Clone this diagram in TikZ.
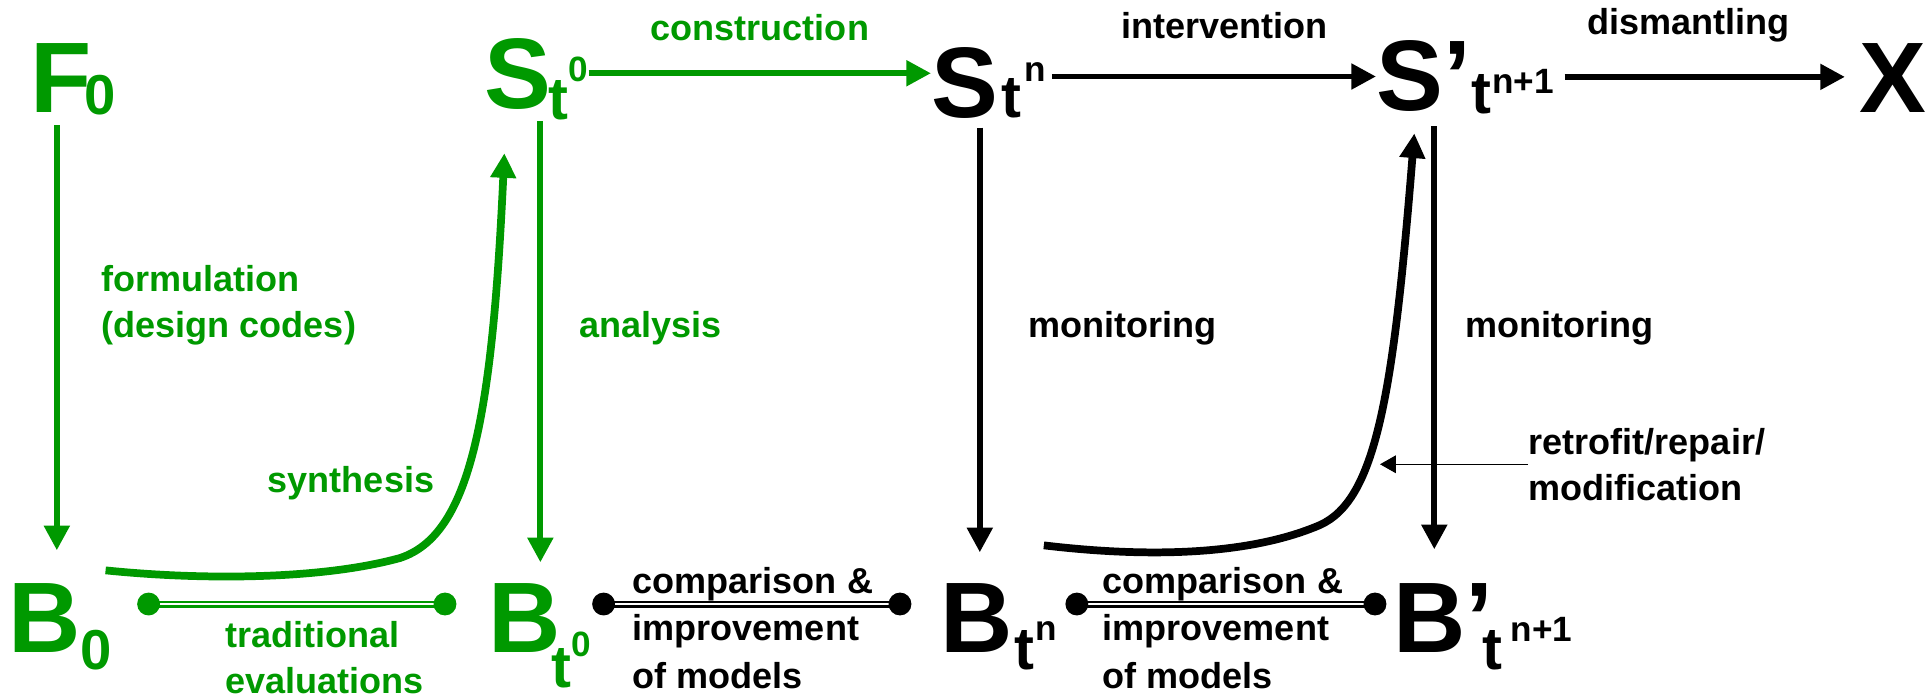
\documentclass[tikz,border=0pt]{standalone}
\usepackage{fontspec}
\setmainfont{Liberation Sans}
\usetikzlibrary{arrows.meta}

\definecolor{dgreen}{RGB}{0,153,0}

% big letters and their indices
\newcommand{\bigch}[1]{{\fontsize{28.5}{30}\selectfont #1}}
\newcommand{\idx}[3]{\raisebox{#1}{\fontsize{#2}{#2}\selectfont #3}}

\begin{document}
\begin{tikzpicture}[x=0.01cm, y=-0.01cm, font=\bfseries,
		state/.style={inner sep=0pt, anchor=base west},
		lbl/.style={inner sep=0pt, font=\fontsize{10.25}{13}\selectfont\bfseries, align=left, anchor=base west},
		arr/.style={line width=1.7pt, -{Triangle[length=7pt, width=7pt]}},
		curve/.style={line width=2.2pt, -{Triangle[length=7pt, width=7pt]}},
		cmp/.style={double, line width=0.7pt, double distance=0.6pt},
		dot/.style={circle, fill, inner sep=0pt, minimum size=6.5pt}]
		\useasboundingbox (0,0) rectangle (1930,699);

		% top row
		\node[state, text=dgreen] (F0) at (29.4,112) {\bigch{F}\kern-2pt\idx{-0.6pt}{16}{0}};
		\node[state, text=dgreen] (St0) at (484,108) {\bigch{S}\kern-0.85pt\idx{-3.4pt}{17}{t}\idx{7.4pt}{10}{0}};
		\node[state] (Stn) at (931,117) {\bigch{S}\kern0.85pt\idx{0pt}{17}{t}\kern0.85pt\idx{10.2pt}{10}{n}};
		\node[state] (Sp) at (1376,110) {\bigch{S’}\idx{-0.9pt}{17}{t}\kern0.3pt\idx{4.8pt}{10}{n+1}};
		\node[state] (X) at (1859,112) {\bigch{X}};

		% bottom row
		\node[state, text=dgreen] (B0) at (7.5,652) {\bigch{B}\idx{-5.1pt}{16}{0}};
		\node[state, text=dgreen] (Bt0) at (487.5,652) {\bigch{B}\kern-2.6pt\idx{-10pt}{17}{t}\idx{-1.4pt}{10}{0}};
		\node[state] (Btn) at (939.5,652) {\bigch{B}\kern0.6pt\idx{-5.1pt}{17}{t}\kern0.3pt\idx{3.4pt}{10}{n}};
		\node[state] (Bp) at (1392.5,652) {\bigch{B’}\kern-3.1pt\idx{-5.1pt}{17}{t}\kern2.3pt\idx{3.1pt}{10}{n+1}};

		% horizontal arrows
		\draw[arr, dgreen] ([yshift=0.6mm]St0.east) -- ([yshift=0.6mm]St0.east -| Stn.west) node[lbl, pos=.5, anchor=base, yshift=3.3mm] {construction};
		\draw[arr, shorten <=1.5pt] ([yshift=0.6mm]Stn.east) -- ([yshift=0.6mm]Stn.east -| Sp.west) node[lbl, pos=.54, anchor=base, yshift=3.8mm] {intervention};
		\draw[arr, shorten <=2.8pt, shorten >=4pt] (Sp.east) -- (Sp.east -| X.west) node[lbl, pos=.44, anchor=base, yshift=4.2mm] {dismantling};

		% vertical arrows
		\draw[arr, dgreen, shorten <=1mm, shorten >=3.2mm] ([xshift=-1.6mm]F0.south) -- ([xshift=-1.6mm]F0.south |- B0.north);
		\draw[arr, dgreen, shorten >=2mm] ([xshift=0.4mm]St0.south) -- ([xshift=0.4mm]St0.south |- Bt0.north);
		\draw[arr, shorten <=0.9mm, shorten >=3mm] ([xshift=-0.9mm]Stn.south) -- ([xshift=-0.9mm]Stn.south |- Btn.north);
		\draw[arr, shorten <=1.2mm, shorten >=3.3mm] ([xshift=-3.1mm]Sp.south) -- ([xshift=-3.1mm]Sp.south |- Bp.north);

		\node[lbl, text=dgreen] (form) at (101,337) {formulation\\(design codes)};
		\node[lbl, text=dgreen] (anal) at (579,337) {analysis};
		\node[lbl] (mon1) at (1028,337) {monitoring};
		\node[lbl] (mon2) at (1465,337) {monitoring};

		% synthesis and retrofit curves
		\draw[curve, dgreen] ([shift={(-7,-12)}]B0.north east) .. controls (200,580) and (320,580) .. (400,558) .. controls (470,535) and (492,420) .. ([shift={(-32,32)}]St0.south);
		\node[lbl, anchor=base, text=dgreen] (syn) at (351,492) {synthesis};

		\draw[curve] ([shift={(-14,-37)}]Btn.north east) .. controls (1150,558) and (1250,555) .. (1320,525) .. controls (1375,500) and (1393,400) .. ([shift={(-51,19)}]Sp.south);
		\node[lbl] (retro) at (1528,500) {retrofit/repair/\\modification};
		\coordinate (rfit) at (1380,467);
		\draw[line width=0.4pt, -{Triangle[length=4.5pt, width=5pt]}] (retro.west) -- (retro.west -| rfit);

		% comparisons
		\draw[cmp, dgreen] ([shift={(36,-48)}]B0.base east) node[dot] {} -- ([shift={(-42.5,-48)}]Bt0.base west) node[dot] {};
		\node[lbl, text=dgreen] (trad) at (225,693) {traditional\\evaluations};

		\draw[cmp] ([shift={(12,-48)}]Bt0.base east) node[dot] {} -- ([shift={(-39.5,-48)}]Btn.base west) node[dot] {};
		\node[lbl, font=\fontsize{10.25}{13.4}\selectfont\bfseries] (cmp1) at (632,688) {comparison \&\\improvement\\of models};

		\draw[cmp] ([shift={(19,-48)}]Btn.base east) node[dot] {} -- ([shift={(-17.5,-48)}]Bp.base west) node[dot] {};
		\node[lbl, font=\fontsize{10.25}{13.4}\selectfont\bfseries] (cmp2) at (1102,688) {comparison \&\\improvement\\of models};
	\end{tikzpicture}
\end{document}
